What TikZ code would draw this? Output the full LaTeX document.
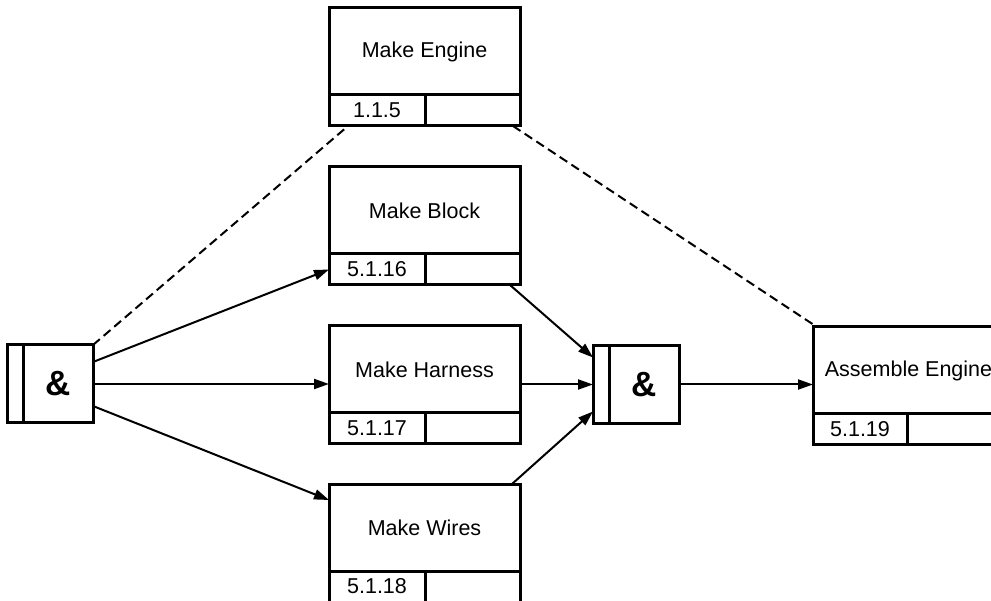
\documentclass[tikz,border=0pt]{standalone}
\usepackage{fontspec}
\setmainfont{Liberation Sans}
\usetikzlibrary{arrows.meta,positioning}
\begin{document}
\begin{tikzpicture}[x=1pt, y=1pt,
    box/.style={draw, line width=3pt, outer sep=0pt, inner sep=0pt, font=\fontsize{21.5}{24}\selectfont},
    title/.style={box, minimum width=191pt, minimum height=87pt},
    cell/.style={box, minimum width=96pt, minimum height=31pt, anchor=north west},
    rest/.style={box, minimum width=95pt, minimum height=31pt, anchor=north west},
    bar/.style={box, minimum width=16pt, minimum height=78pt},
    andbox/.style={box, minimum width=70pt, minimum height=78pt, font=\fontsize{35}{38}\selectfont\bfseries},
    flow/.style={line width=2pt, -{Triangle[length=15pt,width=10pt]}},
    link/.style={line width=2pt, dash pattern=on 9pt off 5pt}]
    \clip (0,0) rectangle (991,-601);
    \node[bar] (barL) at (15,-384) {};
    \node[andbox, right=0pt of barL] (andL) {\&};
    \node[bar] (barR) at (601,-384.5) {};
    \node[andbox, right=0pt of barR] (andR) {\&};
    \node[title] (eng) at (424.5,-51.5) {Make Engine};
    \node[cell] (engN) at (eng.south west) {1.1.5};
    \node[rest] (engX) at (engN.north east) {};
    \node[title] (blk) at (424.5,-210.5) {Make Block};
    \node[cell] (blkN) at (blk.south west) {5.1.16};
    \node[rest] (blkX) at (blkN.north east) {};
    \node[title] (hrn) at (424.5,-369.5) {Make Harness};
    \node[cell] (hrnN) at (hrn.south west) {5.1.17};
    \node[rest] (hrnX) at (hrnN.north east) {};
    \node[title] (wrs) at (424.5,-527.5) {Make Wires};
    \node[cell] (wrsN) at (wrs.south west) {5.1.18};
    \node[rest] (wrsX) at (wrsN.north east) {};
    \node[title] (asm) at (908.5,-370.5) {Assemble Engine};
    \node[cell, minimum width=94pt] (asmN) at (asm.south west) {5.1.19};
    \node[rest, minimum width=97pt] (asmX) at (asmN.north east) {};
    \draw[flow] ([yshift=22pt]andL.east) -- (blkN.west);
    \draw[flow] (andL.east) -- (andL.east -| hrn.west);
    \draw[flow] ([yshift=-22pt]andL.east) -- ([yshift=-16pt]wrs.north west);
    \draw[flow] ([xshift=-10pt]blkX.south east) -- ([yshift=27pt]barR.west);
    \draw[flow] (hrn.east |- barR.west) -- (barR.west);
    \draw[flow] ([xshift=-8pt]wrs.north east) -- ([yshift=-27pt]barR.west);
    \draw[flow] (andR.east) -- (andR.east -| asm.west);
    \draw[link] (andL.north east) -- ([xshift=19pt]engN.south west);
    \draw[link] ([xshift=-7pt]engX.south east) -- ([xshift=4pt]asm.north west);
\end{tikzpicture}
\end{document}
